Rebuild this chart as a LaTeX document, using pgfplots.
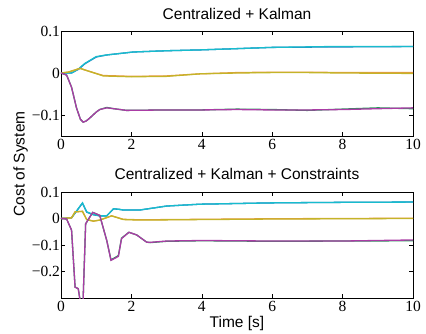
\documentclass[border=0pt]{standalone}
\usepackage{fontspec}
\setmainfont{Liberation Serif}
\setsansfont{Liberation Sans}
\usepackage{pgfplots}
\pgfplotsset{compat=1.18}
\definecolor{mcyan}{RGB}{23,188,205}
\definecolor{mblue}{RGB}{40,120,190}
\definecolor{myellow}{RGB}{196,180,40}
\definecolor{morange}{RGB}{235,150,70}
\definecolor{mgreen}{RGB}{40,150,90}
\definecolor{mmag}{RGB}{170,60,165}
\newcommand{\lab}{\sffamily\fontsize{15.5}{16}\selectfont}
\pgfplotsset{
  myax/.style={
    scale only axis, width=352pt,
    xmin=0, xmax=10,
    xtick={0,2,4,6,8,10},
    tick align=inside, tick pos=both,
    major tick length=4pt,
    axis line style={line width=0.7pt},
    every tick/.style={black,line width=0.6pt},
    ticklabel style={font=\rmfamily\fontsize{15.5}{16}\selectfont},
    xticklabel style={yshift=0pt},
    yticklabel style={xshift=2.5pt},
    clip=true,
    every axis plot/.append style={line width=1.3pt, no markers},
  }
}
\begin{document}
\begin{tikzpicture}[x=1pt,y=1pt]
\path[use as bounding box] (0,-334) rectangle (426,0);
\begin{axis}[myax, at={(61pt,-136pt)}, anchor=south west, height=105pt,
  ymin=-0.15, ymax=0.1, ytick={-0.1,0,0.1}, yticklabels={−0.1,0,0.1},
  xticklabels={0,2,4,6,8,10}]
\addplot[mblue] coordinates {(0,0)(0.3,0)(0.5,0.009)(0.68,0.022)(1.0,0.038)(1.3,0.043)(2.05,0.05)(3,0.053)(3.95,0.055)(5,0.058)(6,0.061)(7.7,0.062)(10,0.063)};
\addplot[mcyan] coordinates {(0,0)(0.3,0)(0.5,0.01)(0.68,0.023)(1.0,0.039)(1.3,0.043)(2.05,0.05)(3,0.053)(3.95,0.055)(5,0.058)(6,0.061)(7.7,0.063)(10,0.063)};
\addplot[morange] coordinates {(0,0)(0.2,0.002)(0.54,0.011)(0.8,0.004)(1.2,-0.006)(2,-0.008)(3,-0.007)(3.95,-0.002)(5,0.001)(6,0.002)(7,0.002)(8,0.001)(10,0.001)};
\addplot[myellow] coordinates {(0,0)(0.2,0.002)(0.54,0.011)(0.8,0.004)(1.2,-0.007)(2,-0.009)(3,-0.008)(3.95,-0.002)(5,0)(6,0.001)(7,0.001)(8,0)(10,-0.001)};
\addplot[mgreen] coordinates {(0,0)(0.16,-0.005)(0.3,-0.034)(0.44,-0.083)(0.55,-0.11)(0.63,-0.117)(0.72,-0.114)(0.82,-0.107)(1.0,-0.093)(1.1,-0.087)(1.3,-0.082)(1.5,-0.085)(1.86,-0.089)(3,-0.088)(3.95,-0.088)(5,-0.086)(6,-0.087)(7,-0.089)(8,-0.086)(9,-0.083)(10,-0.085)};
\addplot[mmag] coordinates {(0,0)(0.16,-0.005)(0.3,-0.034)(0.44,-0.083)(0.55,-0.11)(0.63,-0.117)(0.72,-0.114)(0.82,-0.107)(1.0,-0.093)(1.1,-0.087)(1.3,-0.083)(1.5,-0.085)(1.86,-0.089)(3,-0.088)(3.95,-0.088)(5,-0.087)(6,-0.088)(7,-0.088)(8,-0.087)(9,-0.085)(10,-0.083)};
\end{axis}
\begin{axis}[myax, at={(61pt,-298pt)}, anchor=south west, height=106pt,
  ymin=-0.3, ymax=0.1, ytick={-0.2,-0.1,0,0.1}, yticklabels={−0.2,−0.1,0,0.1},
  xticklabels={0,2,4,6,8,10}]
\addplot[mblue] coordinates {(0,0)(0.3,0.0025)(0.61,0.058)(0.73,0.024)(0.92,0.014)(1.1,0.01)(1.3,0.01)(1.49,0.036)(1.63,0.035)(1.77,0.032)(2.24,0.032)(3,0.047)(3.95,0.054)(6,0.059)(8,0.061)(10,0.062)};
\addplot[mcyan] coordinates {(0,0)(0.3,0.0025)(0.61,0.059)(0.73,0.025)(0.92,0.015)(1.1,0.01)(1.3,0.01)(1.49,0.037)(1.63,0.035)(1.77,0.032)(2.24,0.032)(3,0.047)(3.95,0.054)(6,0.059)(8,0.061)(10,0.062)};
\addplot[morange] coordinates {(0,0)(0.3,0.0025)(0.4,0.025)(0.61,0.027)(0.73,-0.004)(0.92,-0.01)(1.1,-0.006)(1.44,0.01)(1.77,-0.003)(2.24,-0.005)(4,-0.003)(6,-0.001)(10,0.001)};
\addplot[myellow] coordinates {(0,0)(0.3,0.0025)(0.4,0.025)(0.61,0.027)(0.73,-0.004)(0.92,-0.01)(1.1,-0.006)(1.44,0.01)(1.77,-0.004)(2.24,-0.006)(4,-0.004)(6,-0.002)(10,0)};
\addplot[mgreen] coordinates {(0,0)(0.16,-0.002)(0.3,-0.044)(0.4,-0.259)(0.49,-0.265)(0.58,-0.34)(0.62,-0.34)(0.7,-0.02)(0.9,0.023)(1.1,0.012)(1.3,-0.083)(1.42,-0.156)(1.63,-0.14)(1.72,-0.074)(1.93,-0.052)(2.15,-0.062)(2.43,-0.089)(2.53,-0.091)(3,-0.086)(4,-0.084)(6,-0.086)(8,-0.085)(10,-0.084)};
\addplot[mmag] coordinates {(0,0)(0.16,-0.002)(0.3,-0.044)(0.4,-0.259)(0.49,-0.265)(0.58,-0.34)(0.62,-0.34)(0.7,-0.02)(0.9,0.023)(1.1,0.012)(1.3,-0.083)(1.42,-0.158)(1.63,-0.143)(1.72,-0.076)(1.93,-0.052)(2.15,-0.062)(2.43,-0.089)(2.53,-0.09)(3,-0.085)(4,-0.083)(6,-0.085)(8,-0.085)(10,-0.081)};
\end{axis}
\node[anchor=base, font=\lab, inner sep=0pt] at (237,-19.3) {Centralized + Kalman};
\node[anchor=base, font=\lab, inner sep=0pt] at (237,-180) {Centralized + Kalman + Constraints};
\node[anchor=base, font=\lab, inner sep=0pt] at (237,-327.5) {Time [s]};
\node[rotate=90, anchor=base, font=\lab, inner sep=0pt] at (24.5,-164) {Cost of System};
\end{tikzpicture}
\end{document}
